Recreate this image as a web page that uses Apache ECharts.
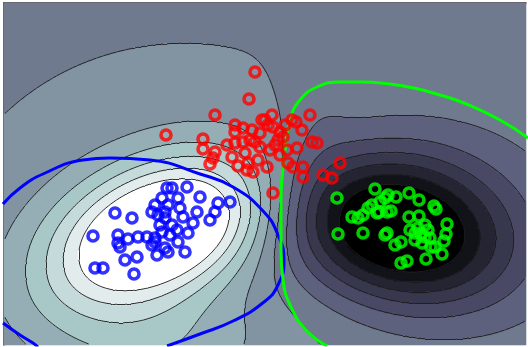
<!DOCTYPE html>
<html>
<head>
<meta charset="utf-8">
<script src="https://cdn.jsdelivr.net/npm/echarts/dist/echarts.min.js"></script>
<style>
html, body { margin: 0; padding: 0; background: #fff; }
#main { width: 528px; height: 347px; }
</style>
</head>
<body>
<div id="main"></div>
<script>
// plot extent in data units
var xMax = 52.2, yMax = 34.2;

// bumps of the shaded field: [cx, cy, sx, sy, angle(deg), weight, sy below the axis]
var bumps = [
    [15.6, 11.2, 8.0, 4.7, 22, 8.0, 4.2],
    [16.6, 10.5, 19.0, 16.5, 10, 1.0],
    [14.6, 0.0, 8.0, 4.0, 0, 1.5],
    [31.1, 22.5, 2.5, 6.0, 0, -0.55],
    [39.1, 11.5, 7.5, 4.7, -15, -6.5],
    [40.6, 13.0, 8.5, 6.0, 0, -2.2]
];

// filled bands (-6 .. 6) and their colours
var bands = [-6, -5, -4, -3, -2, -1, 0, 1, 2, 3, 4, 5, 6];
var bandColors = ['#000000', '#13131a', '#252534', '#38384e', '#4a4a67', '#5d617d',
    '#707b8f', '#8294a2', '#95aeb5', '#a8c7c7', '#c5dada', '#e2ecec', '#ffffff'];
var lineLevels = [-5.5, -4.5, -3.5, -2.5, -1.5, -0.5, 0.5, 1.5, 2.5, 3.5, 4.5, 5.5];

var redPts = [
    [25.1, 27.3], [24.5, 24.6], [21.1, 23.0], [16.2, 21.0], [19.9, 20.6], [23.1, 22.0],
    [23.1, 21.3], [23.9, 21.7], [24.8, 21.5], [25.8, 22.5], [19.9, 19.6], [21.1, 19.3],
    [20.9, 18.7], [20.6, 18.1], [22.3, 20.0], [22.8, 18.8], [23.4, 17.9], [24.4, 18.2],
    [24.9, 17.3], [25.4, 18.5], [23.1, 20.2], [23.9, 20.3], [25.1, 20.3], [26.8, 23.0],
    [26.1, 22.5], [28.8, 22.5], [30.6, 23.0], [29.8, 21.5], [30.8, 20.3], [31.3, 20.2],
    [25.6, 21.2], [26.9, 21.8], [27.6, 21.3], [27.9, 20.8], [26.6, 19.5], [25.6, 19.8],
    [24.6, 20.5], [24.1, 19.2], [26.3, 17.8], [28.3, 19.5], [29.3, 19.7], [28.4, 18.2],
    [28.9, 17.8], [29.9, 17.8], [29.9, 16.8], [33.6, 18.2], [31.9, 17.0], [32.8, 16.7],
    [26.9, 15.2], [24.3, 17.5], [26.4, 22.0], [27.4, 20.5], [28.1, 22.0], [29.2, 22.3],
    [27.1, 20.0], [27.6, 19.0]
];
var bluePts = [
    [16.3, 15.7], [11.1, 13.2], [12.8, 12.7], [8.9, 10.9], [11.4, 11.0], [12.4, 10.6],
    [11.4, 10.2], [11.6, 9.8], [13.4, 10.8], [12.1, 8.5], [13.3, 8.8], [9.1, 7.7],
    [9.9, 7.7], [13.0, 7.1], [15.3, 9.0], [14.8, 13.3], [15.1, 14.0], [15.8, 14.7],
    [16.1, 13.3], [14.3, 10.8], [15.1, 10.3], [15.8, 11.3], [16.1, 9.7], [16.4, 9.3],
    [18.3, 15.8], [16.8, 15.7], [19.6, 14.8], [21.4, 14.2], [22.6, 14.3], [21.1, 13.3],
    [20.6, 12.5], [19.3, 13.3], [18.9, 12.2], [17.9, 12.8], [17.4, 14.7], [16.4, 14.0],
    [15.4, 13.0], [16.1, 12.7], [16.8, 12.0], [17.3, 11.5], [15.1, 10.7], [14.8, 10.0],
    [18.1, 9.3], [17.4, 10.3], [16.6, 11.0], [17.6, 13.7], [15.6, 12.0], [18.4, 11.2]
];
var greenPts = [
    [33.3, 14.7], [37.1, 15.6], [33.4, 11.1], [34.8, 12.8], [35.4, 12.7], [35.9, 13.0],
    [36.4, 13.7], [36.8, 14.0], [37.6, 14.3], [38.1, 14.7], [38.3, 13.3], [37.3, 13.2],
    [35.9, 11.2], [38.1, 11.0], [39.1, 10.0], [40.5, 15.2], [41.5, 14.5], [39.2, 14.8],
    [43.0, 13.9], [43.2, 13.6], [44.3, 12.1], [44.2, 11.1], [44.0, 10.4], [43.8, 9.1],
    [42.2, 8.6], [40.3, 8.4], [39.7, 8.2], [39.7, 10.3], [40.5, 12.8], [41.5, 12.9],
    [41.7, 11.1], [42.7, 9.8], [37.5, 13.3], [38.7, 13.4], [38.4, 15.0], [38.3, 11.2],
    [41.1, 11.2], [42.1, 10.8], [42.4, 11.5], [43.1, 9.8], [40.6, 11.5], [41.4, 11.7],
    [41.8, 10.2], [41.1, 10.5], [42.1, 12.0], [42.6, 10.7]
];

// thick class boundaries
var blueLineA = [[-0.1, 2.2], [1.6, 1.0], [2.9, 0.2], [3.4, -0.2]];
var blueLineB = [
    [-0.1, 14.1], [1.6, 15.7], [3.9, 17.1], [7.9, 18.5], [10.6, 18.7], [14.6, 18.5],
    [19.6, 17.1], [22.9, 15.8], [25.9, 13.4], [27.4, 11.0], [28.0, 8.4], [27.4, 6.0],
    [26.0, 4.3], [22.9, 2.4], [19.6, 1.1], [16.3, -0.1]
];
var greenLine = [
    [32.3, -0.1], [30.3, 1.4], [28.7, 3.8], [27.9, 6.5], [27.7, 9.5], [27.7, 14.5],
    [27.9, 17.8], [28.1, 19.5], [28.6, 22.5], [29.6, 24.5], [31.3, 25.8], [33.6, 26.3],
    [35.7, 26.3], [38.6, 26.1], [41.0, 25.7], [43.6, 25.0], [46.0, 24.2], [49.6, 22.5],
    [52.4, 20.7]
];

function fieldAt(x, y) {
    var f = 0;
    for (var k = 0; k < bumps.length; k++) {
        var b = bumps[k];
        var a = b[4] * Math.PI / 180;
        var dx = x - b[0], dy = y - b[1];
        var u = dx * Math.cos(a) + dy * Math.sin(a);
        var v = -dx * Math.sin(a) + dy * Math.cos(a);
        var sy = (v < 0 && b[6]) ? b[6] : b[3];
        f += b[5] * Math.exp(-0.5 * (u * u / (b[2] * b[2]) + v * v / (sy * sy)));
    }
    return f;
}

var NX = 261, NY = 171, CELL = 0.2;
var field = [];
var heat = [];
var xCats = [], yCats = [];
for (var i = 0; i < NX; i++) xCats.push(i);
for (var j = 0; j < NY; j++) {
    yCats.push(j);
    var row = [];
    for (var i = 0; i < NX; i++) {
        var f = fieldAt((i + 0.5) * CELL, (j + 0.5) * CELL);
        row.push(f);
        heat.push([i, j, Math.max(-6, Math.min(6, Math.round(f)))]);
    }
    field.push(row);
}

// marching squares for the thin black contour lines
function cross(v1, v2, x1, y1, x2, y2, L, out) {
    if ((v1 - L) * (v2 - L) < 0) {
        var t = (L - v1) / (v2 - v1);
        out.push([x1 + t * (x2 - x1), y1 + t * (y2 - y1)]);
    }
}
var segs = [];
lineLevels.forEach(function (L) {
    for (var j = 0; j < NY - 1; j++) {
        for (var i = 0; i < NX - 1; i++) {
            var a = field[j][i], b = field[j][i + 1], c = field[j + 1][i + 1], d = field[j + 1][i];
            var x0 = (i + 0.5) * CELL, x1 = x0 + CELL, y0 = (j + 0.5) * CELL, y1 = y0 + CELL;
            var p = [];
            cross(a, b, x0, y0, x1, y0, L, p);
            cross(b, c, x1, y0, x1, y1, L, p);
            cross(c, d, x1, y1, x0, y1, L, p);
            cross(d, a, x0, y1, x0, y0, L, p);
            if (p.length >= 2) segs.push({coords: [p[0], p[1]]});
            if (p.length === 4) segs.push({coords: [p[2], p[3]]});
        }
    }
});

function ring(color) {
    return {color: 'rgba(0,0,0,0)', borderColor: color, borderWidth: 3.6};
}

var myChart = echarts.init(document.getElementById('main'));
var option = {
    animation: false,
    grid: [
        {left: 4, top: 3, width: 522, height: 342},
        {left: 4, top: 3, width: 522, height: 342}
    ],
    xAxis: [
        {gridIndex: 0, type: 'category', data: xCats, show: false},
        {
            gridIndex: 1, type: 'value', min: 0, max: xMax, position: 'top',
            axisLine: {show: true, onZero: false, lineStyle: {color: '#2b2b2b', width: 1.5}},
            axisTick: {show: false}, axisLabel: {show: false}, splitLine: {show: false}
        }
    ],
    yAxis: [
        {gridIndex: 0, type: 'category', data: yCats, show: false},
        {
            gridIndex: 1, type: 'value', min: 0, max: yMax, position: 'left',
            axisLine: {show: true, onZero: false, lineStyle: {color: '#2b2b2b', width: 1.5}},
            axisTick: {show: false}, axisLabel: {show: false}, splitLine: {show: false}
        }
    ],
    visualMap: {
        type: 'piecewise',
        show: false,
        seriesIndex: 0,
        dimension: 2,
        pieces: bands.map(function (k, n) { return {value: k, color: bandColors[n]}; })
    },
    series: [
        {
            type: 'heatmap', xAxisIndex: 0, yAxisIndex: 0, data: heat,
            progressive: 0, silent: true, z: 1
        },
        {
            type: 'lines', coordinateSystem: 'cartesian2d', xAxisIndex: 1, yAxisIndex: 1,
            data: segs, silent: true, z: 2,
            lineStyle: {color: '#1c1c1c', width: 0.9, opacity: 1}
        },
        {
            type: 'line', xAxisIndex: 1, yAxisIndex: 1, data: blueLineA, smooth: true,
            showSymbol: false, silent: true, z: 3, lineStyle: {color: '#0000ff', width: 3}
        },
        {
            type: 'line', xAxisIndex: 1, yAxisIndex: 1, data: blueLineB, smooth: true,
            showSymbol: false, silent: true, z: 3, lineStyle: {color: '#0000ff', width: 3}
        },
        {
            type: 'line', xAxisIndex: 1, yAxisIndex: 1, data: greenLine, smooth: true,
            showSymbol: false, silent: true, z: 3, lineStyle: {color: '#00ff00', width: 3}
        },
        {
            type: 'scatter', xAxisIndex: 1, yAxisIndex: 1, data: redPts, symbolSize: 10,
            itemStyle: ring('#ff0000'), z: 4
        },
        {
            type: 'scatter', xAxisIndex: 1, yAxisIndex: 1, data: bluePts, symbolSize: 10,
            itemStyle: ring('#0000ff'), z: 4
        },
        {
            type: 'scatter', xAxisIndex: 1, yAxisIndex: 1, data: greenPts, symbolSize: 10,
            itemStyle: ring('#00ff00'), z: 4
        }
    ]
};
myChart.setOption(option);
</script>
</body>
</html>
